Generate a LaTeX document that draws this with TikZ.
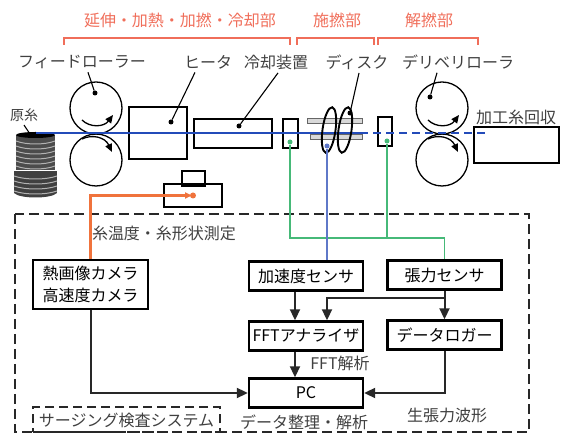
\documentclass[tikz,border=0pt]{standalone}
\usepackage{fontspec}
\newfontfamily\jpfont{Noto Sans CJK JP}
\usetikzlibrary{arrows.meta,calc,positioning}

\definecolor{partred}{RGB}{240,110,90}
\definecolor{yarnblue}{RGB}{35,75,185}
\definecolor{sigblue}{RGB}{95,120,200}
\definecolor{siggreen}{RGB}{70,185,120}
\definecolor{lamporange}{RGB}{240,115,60}
\definecolor{inkgray}{RGB}{40,40,40}

\tikzset{
  unit/.style={draw,line width=2.4pt,minimum width=114pt,minimum height=29pt,inner sep=1pt},
  part/.style={draw,line width=1.3pt,inner sep=0},
  roller/.style={part,circle,minimum size=52pt},
  flow/.style={line width=2pt,draw=inkgray,-{Triangle[length=11pt,width=10pt]}},
  lbl/.style={text=black!75},
  pin/.style={circle,fill,inner sep=0,minimum size=5pt},
  bracket/.style={partred,line width=1.3pt},
}

\begin{document}
\begin{tikzpicture}[x=1pt,y=-1pt,font=\jpfont\fontsize{16}{18}\selectfont]
\useasboundingbox (0,0) rectangle (563,435);

% section brackets
\draw[bracket] (64,45) |- (290,38) -- (290,45);
\draw[bracket] (297,45) |- (374,38) -- (374,45);
\draw[bracket] (378,45) |- (478,38) -- (478,45);
\node[text=partred] (stretchsec) at (180,20) {延伸・加熱・加撚・冷却部};
\node[text=partred] (twistsec) at (337,20) {施撚部};
\node[text=partred] (untwistsec) at (429,20) {解撚部};

% machine labels
\node[lbl] (feedlbl) at (82,62) {フィードローラー};
\node[lbl] (heatlbl) at (208,62) {ヒータ};
\node[lbl] (coollbl) at (276,62) {冷却装置};
\node[lbl] (disklbl) at (357,62) {ディスク};
\node[lbl] (deliverlbl) at (458,62) {デリベリローラ};
\node[lbl,font=\jpfont\fontsize{14}{16}\selectfont] (rawlbl) at (24,115) {原糸};
\node[lbl] (outlbl) at (516,117) {加工糸回収};

% supply package
\fill[black!70] (16,135) rectangle (55,170);
\fill[black!75] (14,171) rectangle (57,193);
\fill[black!75] (14,193) .. controls (20,199) and (51,199) .. (57,193) -- cycle;
\foreach \y in {141,146,...,166}
  \draw[black!30,line width=1pt] (16,\y) .. controls (26,\y+4) and (45,\y+4) .. (55,\y);
\foreach \y in {176,181,...,191}
  \draw[black!30,line width=1pt] (14,\y) .. controls (25,\y+4) and (46,\y+4) .. (57,\y);
\fill[black] (35.5,135) ellipse (19.5 and 3);
\coordinate (pkgtop) at (30,134);
\draw[line width=1.1pt] (rawlbl.south) -- (pkgtop);

% feed rollers
\node[roller] (feedtop) at (96,108) {};
\node[roller] (feedbot) at (96,160) {};
\draw[line width=1.3pt,-{Triangle[length=8pt,width=7pt]}] (82,120) .. controls (90,128) and (104,127) .. (113,115);
\draw[line width=1.3pt,-{Triangle[length=8pt,width=7pt]}] (82,139) .. controls (92,134) and (105,137) .. (112,152);
\node[pin] (feedpin) at (95,93) {};
\draw[line width=1.1pt] ([xshift=6pt]feedlbl.south) -- (feedpin);

% heater and cooler
\node[part,minimum width=58pt,minimum height=52pt] (heater) at (158,133) {};
\node[part,minimum width=78pt,minimum height=29pt] (cooler) at (233,133.5) {};
\node[pin] (heatpin) at (171,122) {};
\node[pin] (coolpin) at (239,126) {};
\draw[line width=1.1pt] ([xshift=-13pt]heatlbl.south) -- (heatpin);
\draw[line width=1.1pt] ([xshift=2pt]coollbl.south) -- (coolpin);

% yarn guides
\node[part,minimum width=15pt,minimum height=29pt] (guideA) at (290.5,133.5) {};
\node[part,minimum width=14pt,minimum height=29pt] (guideB) at (385,131.5) {};

% twisting disks
\draw[black!60,line width=1pt,fill=black!15] (307,118.5) rectangle (362,123.5);
\draw[black!60,line width=1pt,fill=black!15] (310,135) rectangle (362,140);

% delivery rollers and take-up
\node[roller] (delivtop) at (442,108) {};
\node[roller] (delivbot) at (442,160) {};
\draw[line width=1.3pt,-{Triangle[length=8pt,width=7pt]}] (428,120) .. controls (436,128) and (450,127) .. (459,115);
\draw[line width=1.3pt,-{Triangle[length=8pt,width=7pt]}] (428,139) .. controls (438,134) and (451,137) .. (458,152);
\node[pin] (delivpin) at (430,97) {};
\draw[line width=1.1pt] ([xshift=-21pt]deliverlbl.south) -- (delivpin);
\node[part,minimum width=85pt,minimum height=36pt] (outlet) at (516.5,145) {};

% running yarn
\draw[yarnblue,line width=2.4pt] (36,133) -- (360,133);
\draw[yarnblue,line width=2.4pt,dash pattern=on 8pt off 5pt] (360,133) -- (486,133);

\draw[line width=1.9pt,rotate around={-8:(329,130)}] (329,130) ellipse (6.5 and 23);
\draw[line width=1.9pt,rotate around={-8:(345,130)}] (345,130) ellipse (6.5 and 23);
\node[pin] (diskpin) at (350,113) {};
\draw[line width=1.1pt] ([xshift=2pt]disklbl.south) -- (diskpin);

% camera head
\node[part,minimum width=23pt,minimum height=15pt] (headtop) at (193.5,178.5) {};
\node[part,minimum width=58pt,minimum height=23pt] (head) at (193,195.5) {};

% measuring system
\draw[inkgray,line width=2.6pt,dash pattern=on 10pt off 5pt] (15,214) rectangle (529,432);
\node[draw=inkgray,line width=2pt,dash pattern=on 9pt off 5pt,minimum width=187pt,minimum height=25pt,lbl]
  (sysname) at (126.5,420) {サージング検査システム};

\node[unit,minimum width=115pt,minimum height=49pt,align=center,font=\jpfont\fontsize{16}{22}\selectfont]
  (camera) at (90.5,284.5) {熱画像カメラ\\高速度カメラ};
\node[unit] (accel) at (306,276) {加速度センサ};
\node[unit] (tension) at (444.5,275) {張力センサ};
\node[unit] (fft) at (306,336) {FFTアナライザ};
\node[unit] (logger) at (444.5,335) {データロガー};
\node[unit] (pc) at (306,393) {PC};

\node[lbl] (measnote) at (164,233) {糸温度・糸形状測定};
\node[lbl] (fftnote) at (340,363) {FFT解析};
\node[lbl] (pcnote) at (304,422) {データ整理・解析};
\node[lbl] (wavenote) at (447,415) {生張力波形};

% sensor wiring
\node[pin,fill=siggreen] (guideApin) at (290,142) {};
\node[pin,fill=siggreen] (guideBpin) at (387,141) {};
\node[pin,fill=sigblue] (accelpin) at (327,146) {};
\coordinate (gbus) at (290,238);
\draw[siggreen,line width=1.6pt] (guideApin) -- (gbus) -| (tension.north);
\draw[siggreen,line width=1.6pt] (guideBpin) -- (guideBpin |- gbus);
\draw[sigblue,line width=1.6pt] (accelpin) -- (accelpin |- accel.north);

\draw[lamporange,line width=2.2pt,-{Latex[length=8pt,width=7pt]}] (camera.north) |- (head.center);
\fill[lamporange] (head.center) circle (3);

% signal flow
\coordinate (split) at ($(tension.south)+(0,7)$);
\draw[flow] ([xshift=-11pt]accel.south) -- ([xshift=-11pt]fft.north);
\draw[flow] (split) -| ([xshift=21pt]fft.north);
\draw[flow] (tension.south) -- (logger.north);
\draw[flow] ([xshift=-11pt]fft.south) -- ([xshift=-11pt]pc.north);
\draw[flow] (logger.south) |- (pc.east);
\draw[flow] (camera.south) |- (pc.west);
\end{tikzpicture}
\end{document}
